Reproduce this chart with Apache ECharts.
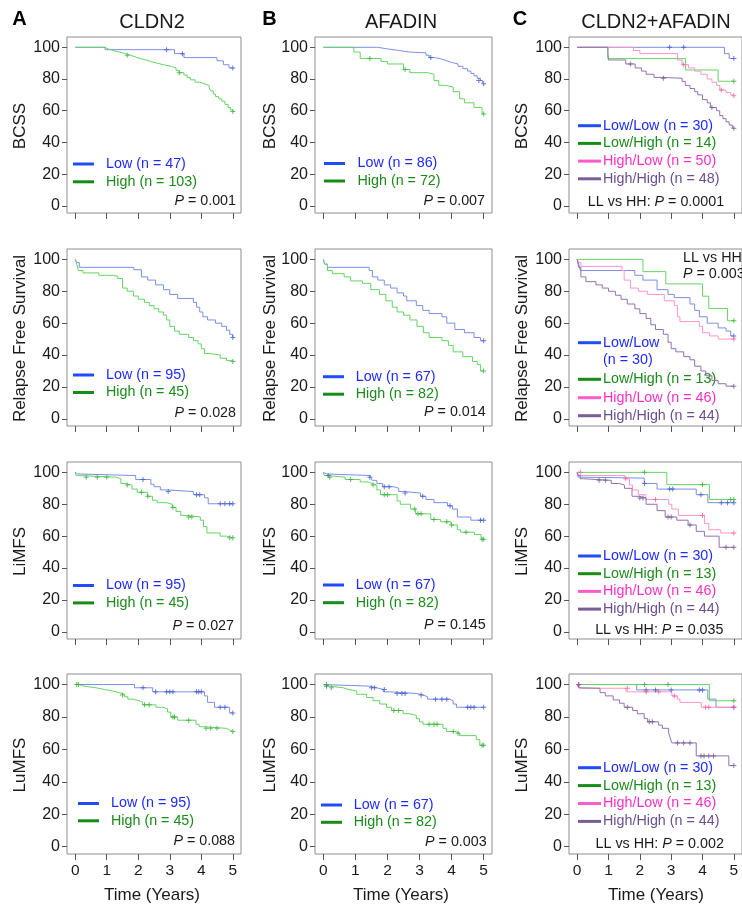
<!DOCTYPE html>
<html><head><meta charset="utf-8">
<script src="https://cdn.jsdelivr.net/npm/echarts@6/dist/echarts.min.js"></script>
<style>html,body{margin:0;padding:0;background:#fff}#c{width:742px;height:905px}</style>
</head><body><div id="c"></div>
<script>
// ---------- tick labels ----------
const timeTicks = [0, 1, 2, 3, 4, 5];
const survTicks = [0, 20, 40, 60, 80, 100];
const panelLetters = ['A', 'B', 'C'];
const columnTitles = ['CLDN2', 'AFADIN', 'CLDN2+AFADIN'];
const rowEndpoints = ['BCSS', 'Relapse Free Survival', 'LiMFS', 'LuMFS'];
const timeTitle = 'Time (Years)';

// ---------- CLDN2 ----------
const cldn2BcssLow = [[0,100],[0.95,98.5],[3.15,96],[3.45,93.5],[4.5,91.5],[4.7,89],[4.88,87],[5,87]];
const cldn2BcssLowCens = [[2.9,98.5],[3.4,96],[5,87]];
const cldn2BcssHigh = [[0,100],[0.95,99],[1.05,98],[1.2,97],[1.4,96],[1.6,95],[1.75,94],[1.9,93],[2.05,92],[2.25,91],[2.4,90],[2.6,89],[2.8,88],[3.05,87],[3.2,85.5],[3.3,84],[3.45,82.5],[3.55,81],[3.65,79.5],[3.8,78],[3.95,77],[4.1,76],[4.25,74.5],[4.3,72.5],[4.38,70.5],[4.45,69],[4.55,67.5],[4.65,66],[4.75,64],[4.85,62],[4.93,60.5],[5,59.5]];
const cldn2BcssHighCens = [[1.65,95],[3.3,84],[5,59.5]];

const cldn2RfsLow = [[0,100],[0.05,98],[0.13,95],[1.86,93.5],[2.1,89],[2.3,87],[2.55,84],[2.8,81],[3.0,78],[3.25,75.5],[3.75,73],[3.85,70],[3.95,67],[4.05,64],[4.2,62],[4.45,60],[4.65,58],[4.8,55.5],[4.9,53],[5,51]];
const cldn2RfsLowCens = [[5,51]];
const cldn2RfsHigh = [[0,100],[0.05,97],[0.1,93],[0.25,91.5],[0.75,90],[1.1,89.5],[1.35,88],[1.5,82],[1.65,80],[1.85,77],[2.0,75],[2.2,73],[2.35,71],[2.5,69],[2.65,67],[2.8,65],[2.9,62],[3.0,58],[3.15,55],[3.3,53],[3.6,51],[3.75,49],[3.9,47],[4.0,44],[4.1,41],[4.25,40],[4.6,38],[4.8,36.5],[5,36]];
const cldn2RfsHighCens = [[5,36]];

const cldn2LimfsLow = [[0,100],[0.03,99],[0.08,98],[1.92,95.5],[2.4,92.5],[2.5,91],[2.7,89],[2.9,88],[3.75,86],[4.1,84],[4.22,80.3],[5,80.3]];
const cldn2LimfsLowCens = [[2.15,95.5],[2.95,88],[3.85,86],[3.95,86],[4.6,80.3],[4.75,80.3],[4.9,80.3],[5,80.3]];
const cldn2LimfsHigh = [[0,100],[0.03,98],[0.1,97],[1.3,96],[1.45,93],[1.6,92],[1.8,89.5],[1.97,87.5],[2.3,85],[2.45,82.5],[2.6,81],[2.9,80],[3.08,78],[3.2,75.5],[3.35,73],[3.55,72],[3.97,70],[4.07,66],[4.18,62],[4.6,60],[4.8,59],[5,59]];
const cldn2LimfsHighCens = [[0.35,97],[0.7,97],[1.0,97],[1.65,92],[2.1,87.5],[2.3,85],[3.1,78],[3.6,72],[3.7,72],[4.9,59],[5,59]];

const cldn2LumfsLow = [[0,100],[1.88,98],[2.46,95.5],[4.1,93],[4.2,89],[4.42,86],[4.9,82.5],[5,82.5]];
const cldn2LumfsLowCens = [[2.15,98],[2.55,95.5],[2.9,95.5],[3.0,95.5],[3.1,95.5],[3.85,95.5],[3.92,95.5],[4.0,95.5],[4.6,86],[4.75,86],[5,82.5]];
const cldn2LumfsHigh = [[0,100],[0.12,99],[0.29,98],[0.66,97],[0.92,96],[1.19,95],[1.4,94],[1.56,92.5],[1.67,91],[1.83,90],[2.03,89],[2.14,87.5],[2.56,86],[2.78,85],[2.93,83],[3.03,80],[3.25,78],[3.83,75.5],[3.93,74],[4.05,73],[4.79,72],[4.9,71],[5,71]];
const cldn2LumfsHighCens = [[0.05,100],[0.1,100],[1.5,93.5],[2.2,87.5],[2.35,87.5],[3.1,80],[3.15,80],[3.6,78],[4.15,73],[4.3,73],[4.5,73],[5,71]];

// ---------- AFADIN ----------
const afadinBcssLow = [[0,100],[1.7,99],[2.0,98],[2.35,97],[2.7,96.5],[3.2,95],[3.3,93.5],[3.5,92.5],[3.7,91.5],[3.85,90.5],[4.0,89.5],[4.2,88],[4.35,86.5],[4.5,85],[4.6,83.5],[4.7,82],[4.8,80.5],[4.9,79],[4.97,77.5],[5,77]];
const afadinBcssLowCens = [[3.35,93.5],[4.85,79],[5,77]];
const afadinBcssHigh = [[0,100],[0.95,97],[1.15,93],[1.8,91],[2.0,89.5],[2.5,86],[2.7,84],[3.25,83],[3.45,79],[3.6,76],[3.8,75],[4.05,72],[4.25,67.5],[4.4,65],[4.7,62],[4.95,58.5],[5,58]];
const afadinBcssHighCens = [[1.45,93],[2.55,86],[5,58]];

const afadinRfsLow = [[0,100],[0.04,97],[0.13,95],[1.43,93],[1.53,89],[1.7,87],[1.9,84],[2.1,82],[2.3,79],[2.5,77],[2.6,74],[2.9,71],[3.1,68],[3.3,66],[3.7,64],[3.85,60],[4.1,56],[4.4,54],[4.7,51],[4.9,49],[5,49]];
const afadinRfsLowCens = [[5,49]];
const afadinRfsHigh = [[0,100],[0.04,97],[0.13,93],[0.28,91],[0.65,89],[0.85,86.5],[1.22,85],[1.48,81],[1.75,78],[1.95,74],[2.15,70],[2.3,67],[2.5,65],[2.7,62],[2.92,58],[3.12,54],[3.3,51],[3.7,49],[3.9,46],[4.05,42],[4.35,39],[4.65,36],[4.8,34],[4.9,30],[5,30]];
const afadinRfsHighCens = [[5,30]];

const afadinLimfsLow = [[0,100],[0.03,99],[0.1,98],[1.46,97],[1.52,95],[1.67,93],[1.85,91],[2.2,90],[2.35,88],[2.51,87],[3.03,85],[3.2,83],[3.45,81],[3.87,79],[4.03,77],[4.18,72],[4.6,70],[5,70]];
const afadinLimfsLowCens = [[0.15,98],[1.45,97],[1.9,91],[2.05,91],[2.55,87],[3.1,85],[3.95,79],[4.9,70],[5,70]];
const afadinLimfsHigh = [[0,100],[0.03,98],[0.1,97],[0.68,95.5],[1.15,94],[1.41,93],[1.52,92],[1.67,89],[1.78,86],[2.3,82],[2.4,80],[2.72,77],[2.88,74],[3.35,70.5],[3.66,69],[3.98,67],[4.18,64],[4.28,62.5],[4.71,61],[4.92,58],[5,58]];
const afadinLimfsHighCens = [[0.2,97],[0.85,95.5],[1.55,92],[1.9,86],[2.0,86],[2.85,77],[2.95,74],[3.05,74],[3.45,70.5],[3.85,69],[4.0,67],[4.45,62.5],[4.95,58],[5,58]];

const afadinLumfsLow = [[0,100],[0.05,99],[1.45,98],[1.66,97],[1.87,95.5],[2.07,94.5],[2.9,93.5],[3.11,92.5],[3.25,91],[3.94,90],[4.05,88],[4.15,86],[5,86]];
const afadinLumfsLowCens = [[0.1,99],[1.5,98],[1.6,98],[1.9,97],[2.3,94.5],[2.45,94.5],[2.55,94.5],[3.05,93.5],[3.5,91],[3.7,91],[3.85,91],[4.5,86],[4.6,86],[4.7,86],[5,86]];
const afadinLumfsHigh = [[0,100],[0.05,99],[0.2,98],[0.62,97],[0.77,96],[1.04,94],[1.35,92],[1.55,90],[1.76,88],[1.97,86],[2.13,84],[2.49,82],[2.7,81],[2.9,79],[3.0,77],[3.11,75.5],[3.73,73],[3.84,71],[4.15,70],[4.25,68.5],[4.77,66],[4.88,62.5],[5,62.5]];
const afadinLumfsHighCens = [[0.1,100],[0.25,98],[2.2,84],[2.35,84],[3.3,75.5],[3.45,75.5],[3.55,75.5],[4.05,71],[4.2,70],[4.95,62.5],[5,62.5]];

// ---------- CLDN2+AFADIN ----------
const comboBcssLL = [[0,100],[4.7,96],[4.85,93],[5,93]];
const comboBcssLLCens = [[2.95,100],[3.4,100],[5,93]];
const comboBcssLH = [[0,100],[0.98,92.9],[3.46,85.7],[4.5,78.6],[5,78.6]];
const comboBcssLHCens = [[5,78.6]];
const comboBcssHL = [[0,100],[1.8,98],[2.0,96],[3.2,92],[3.35,89],[3.55,87],[3.75,85],[3.95,83],[4.15,80],[4.3,78],[4.45,76],[4.55,73],[4.75,71.5],[4.9,70],[5,69.5]];
const comboBcssHLCens = [[3.4,89],[4.6,73],[5,69.5]];
const comboBcssHH = [[0,100],[0.98,96],[1.0,92],[1.55,89.5],[1.85,87],[2.05,85],[2.2,83],[2.45,81],[2.7,80.5],[3.35,78.5],[3.45,76],[3.6,74],[3.75,72],[3.85,70],[4.0,67],[4.15,65],[4.25,62],[4.45,60],[4.55,57],[4.65,55],[4.75,53],[4.85,51],[4.95,49],[5,49]];
const comboBcssHHCens = [[1.7,89.5],[2.75,80.5],[4.3,62],[5,49]];

const comboRfsLL = [[0,100],[0.05,97],[0.1,93],[1.84,90],[2.1,87],[2.55,81],[2.9,78],[3.1,76],[3.6,72],[3.75,68],[3.9,64],[4.15,60],[4.5,57],[4.75,55],[4.9,52],[5,52]];
const comboRfsLLCens = [[5,52]];
const comboRfsLH = [[0,100],[2.1,92.3],[2.83,84.6],[4.0,76.9],[4.2,69.2],[4.8,61.5],[5,61.5]];
const comboRfsLHCens = [[5,61.5]];
const comboRfsHL = [[0,100],[0.05,98],[0.12,95.6],[1.43,93],[1.5,87],[1.7,82],[1.95,80],[2.25,78],[2.78,74],[3.1,71],[3.2,64],[3.28,61],[3.9,58],[4.0,54],[4.22,52],[4.5,50],[5,50]];
const comboRfsHLCens = [[5,50]];
const comboRfsHH = [[0,100],[0.05,95],[0.12,89],[0.28,86],[0.6,84],[0.8,82],[1.0,80],[1.22,77.5],[1.4,75],[1.6,72],[1.84,69],[2.0,66],[2.2,63],[2.35,59],[2.5,56],[2.75,53],[2.9,48],[3.0,44],[3.15,42],[3.4,39],[3.6,37],[3.75,33],[3.95,30],[4.1,27],[4.3,24],[4.5,22],[4.75,20.5],[5,20.5]];
const comboRfsHHCens = [[5,20.5]];

const comboLimfsLL = [[0,100],[0.03,97],[0.1,96.4],[2.14,93],[2.55,89.5],[3.8,86],[4.17,81],[5,81]];
const comboLimfsLLCens = [[2.15,93],[2.95,89.5],[3.05,89.5],[3.95,86],[4.6,81],[4.8,81],[5,81]];
const comboLimfsLH = [[0,100],[2.86,92.3],[4.22,83],[5,83]];
const comboLimfsLHCens = [[2.15,100],[4.0,92.3],[4.9,83],[5,83]];
const comboLimfsHL = [[0,100],[0.05,98],[1.51,96],[1.67,92],[1.77,89],[1.95,86],[2.19,83],[2.92,80],[3.02,77],[3.23,73],[4.06,68],[4.2,64],[4.58,62],[5,62]];
const comboLimfsHLCens = [[0.1,100],[1.55,96],[2.5,83],[4.0,73],[5,62]];
const comboLimfsHH = [[0,100],[0.03,98],[0.1,96],[0.2,95],[1.09,93],[1.35,92],[1.51,90],[1.75,85],[1.98,84],[2.2,80],[2.55,76],[2.81,72],[3.18,70],[3.54,67],[3.8,63],[4.06,60],[4.53,53],[5,53]];
const comboLimfsHHCens = [[0.7,95],[0.9,95],[2.0,84],[2.1,84],[2.9,72],[3.0,72],[3.6,67],[4.75,53],[5,53]];

const comboLumfsLL = [[0,100],[1.9,96.7],[4.17,91],[4.43,86],[5,86]];
const comboLumfsLLCens = [[2.2,96.7],[2.5,96.7],[3.0,96.7],[3.9,96.7],[4.0,96.7],[5,86]];
const comboLumfsLH = [[0,100],[4.22,90],[5,90]];
const comboLumfsLHCens = [[2.15,100],[2.9,100],[5,90]];
const comboLumfsHL = [[0,100],[0.08,97.7],[1.56,95.5],[3.02,93],[3.2,91],[3.28,89],[3.96,86],[5,86]];
const comboLumfsHLCens = [[0.05,100],[1.6,97.7],[2.2,95.5],[2.6,95.5],[3.1,93],[4.1,86],[4.2,86],[5,86]];
const comboLumfsHH = [[0,100],[0.05,98],[0.13,97.7],[0.73,95],[0.9,93],[1.15,90.5],[1.35,88.5],[1.5,86],[1.77,84],[1.92,82],[2.14,79],[2.25,77],[2.6,75],[2.72,73],[2.92,70],[2.97,67],[3.02,64],[3.8,56],[4.84,50],[5,50]];
const comboLumfsHHCens = [[0.05,100],[1.6,86],[2.3,77],[2.4,77],[3.2,64],[3.4,64],[3.6,64],[3.95,56],[4.05,56],[4.2,56],[4.35,56],[5,50]];

// ---------- legend labels and p-values ----------
const cldn2Labels = [['Low (n = 47)','High (n = 103)'],['Low (n = 95)','High (n = 45)'],['Low (n = 95)','High (n = 45)'],['Low (n = 95)','High (n = 45)']];
const afadinLabels = [['Low (n = 86)','High (n = 72)'],['Low (n = 67)','High (n = 82)'],['Low (n = 67)','High (n = 82)'],['Low (n = 67)','High (n = 82)']];
const comboLabels = [['Low/Low (n = 30)','Low/High (n = 14)','High/Low (n = 50)','High/High (n = 48)'],
                     ['Low/Low (n = 30)','Low/High (n = 13)','High/Low (n = 46)','High/High (n = 44)'],
                     ['Low/Low (n = 30)','Low/High (n = 13)','High/Low (n = 46)','High/High (n = 44)'],
                     ['Low/Low (n = 30)','Low/High (n = 13)','High/Low (n = 46)','High/High (n = 44)']];
const cldn2P = ['0.001','0.028','0.027','0.088'];
const afadinP = ['0.007','0.014','0.145','0.003'];
const comboP = ['0.0001','0.003','0.035','0.002'];

// ---------- styling / layout ----------
const FONT = "'Liberation Sans', Arial, Helvetica, sans-serif";
const lineCol = ['#7a8fe4', '#66d466', '#ff95c9', '#9272ae'];
const markCol = ['#3f58cf', '#36b036', '#f4609f', '#73558f'];
const swatchCol = ['#1f4cff', '#168c16', '#ff5ccb', '#7a5c98'];
const textCol = ['#1e2bff', '#1b8b1b', '#ff2fc4', '#6b5090'];
const colLeft = [67, 315, 569];
const colWidth = [174, 177, 178];
const rowTop = [37, 249, 462, 674];
const rowHeight = [176, 177, 177, 180];

const curveSets = [
  [[cldn2BcssLow, cldn2BcssLowCens],[cldn2BcssHigh, cldn2BcssHighCens]],
  [[afadinBcssLow, afadinBcssLowCens],[afadinBcssHigh, afadinBcssHighCens]],
  [[comboBcssLL, comboBcssLLCens],[comboBcssLH, comboBcssLHCens],[comboBcssHL, comboBcssHLCens],[comboBcssHH, comboBcssHHCens]],
  [[cldn2RfsLow, cldn2RfsLowCens],[cldn2RfsHigh, cldn2RfsHighCens]],
  [[afadinRfsLow, afadinRfsLowCens],[afadinRfsHigh, afadinRfsHighCens]],
  [[comboRfsLL, comboRfsLLCens],[comboRfsLH, comboRfsLHCens],[comboRfsHL, comboRfsHLCens],[comboRfsHH, comboRfsHHCens]],
  [[cldn2LimfsLow, cldn2LimfsLowCens],[cldn2LimfsHigh, cldn2LimfsHighCens]],
  [[afadinLimfsLow, afadinLimfsLowCens],[afadinLimfsHigh, afadinLimfsHighCens]],
  [[comboLimfsLL, comboLimfsLLCens],[comboLimfsLH, comboLimfsLHCens],[comboLimfsHL, comboLimfsHLCens],[comboLimfsHH, comboLimfsHHCens]],
  [[cldn2LumfsLow, cldn2LumfsLowCens],[cldn2LumfsHigh, cldn2LumfsHighCens]],
  [[afadinLumfsLow, afadinLumfsLowCens],[afadinLumfsHigh, afadinLumfsHighCens]],
  [[comboLumfsLL, comboLumfsLLCens],[comboLumfsLH, comboLumfsLHCens],[comboLumfsHL, comboLumfsHLCens],[comboLumfsHH, comboLumfsHHCens]]
];

// legend placement per panel: [lineX, firstRowY, rowStep, textX]
const legendPos = [
  [73,164,17.8,106],[324,163.5,17.5,357.5],[578,125.7,17.7,603],
  [73,375,17.5,106],[323,376.7,17.5,355.7],null,
  [73,585.5,17.4,106],[323,585,17.7,355.7],[578,556,17.7,603],
  [78,803.5,17.3,111],[321,805,17.3,353.7],[578,767.7,17.9,603]
];
const pPos = [[236,201],[485,201],[656,201.7],[236,413],[485.7,411.7],null,[234,625.7],[485.7,625],[659.3,630],[235,841],[486.7,841.7],[659.7,844]];
const yNameX = [20, 270, 522];
const titleX = [152, 401, 656];
const letterX = [19.5, 269.5, 520];
const plusPath = 'path://M4,0H6V4H10V6H6V10H4V6H0V4H4Z';

const grids = [], xAxes = [], yAxes = [], series = [], graphics = [];
const txt = (x, y, text, opts) => Object.assign({type:'text', x, y, silent:true,
  style: Object.assign({text, font: '14px ' + FONT, fill:'#1a1a1a', align:'left', verticalAlign:'middle'}, opts || {})});

for (let i = 0; i < 12; i++) {
  const row = Math.floor(i / 3), col = i % 3;
  grids.push({left: colLeft[col], top: rowTop[row], width: colWidth[col], height: rowHeight[row],
    show: true, borderColor: '#8e8e8e', borderWidth: 1, backgroundColor: 'transparent', containLabel: false});
  xAxes.push({gridIndex: i, type: 'value', min: -0.26, max: 5.26,
    axisLine: {show: false, onZero: false}, splitLine: {show: false},
    axisTick: {show: true, length: 6, customValues: timeTicks, lineStyle: {color: '#555'}},
    axisLabel: {show: row === 3, customValues: timeTicks, margin: 9, fontSize: 15.5, color: '#1a1a1a', fontFamily: FONT}});
  yAxes.push({gridIndex: i, type: 'value', min: -4.5, max: 106.5,
    axisLine: {show: false, onZero: false}, splitLine: {show: false},
    axisTick: {show: true, length: 5, customValues: survTicks, lineStyle: {color: '#555'}},
    axisLabel: {show: true, customValues: survTicks, margin: 7, fontSize: 16, color: '#1a1a1a', fontFamily: FONT}});
  curveSets[i].forEach((c, k) => {
    series.push({type: 'line', xAxisIndex: i, yAxisIndex: i, data: c[0], step: 'end', symbol: 'none',
      lineStyle: {width: 1, color: lineCol[k]}, silent: true, animation: false, z: 2});
    series.push({type: 'scatter', xAxisIndex: i, yAxisIndex: i, data: c[1], symbol: plusPath, symbolSize: 5,
      itemStyle: {color: markCol[k]}, silent: true, animation: false, z: 3});
  });
  // axis name
  const cy = rowTop[row] + rowHeight[row] / 2 + 1;
  graphics.push(txt(yNameX[col], cy, rowEndpoints[row], {font: '17px ' + FONT, align: 'center'}));
  graphics[graphics.length - 1].rotation = Math.PI / 2;
  // legend
  const labels = col === 0 ? cldn2Labels[row] : col === 1 ? afadinLabels[row] : comboLabels[row];
  if (legendPos[i]) {
    const [lx, ly, dy, tx] = legendPos[i];
    const len = col === 2 ? 23 : 21;
    labels.forEach((lab, k) => {
      const y = ly + k * dy;
      graphics.push({type: 'line', silent: true, shape: {x1: lx, y1: y, x2: lx + len, y2: y},
        style: {stroke: swatchCol[k], lineWidth: 3}});
      graphics.push(txt(tx, y, lab, {fill: textCol[k], font: '14.3px ' + FONT}));
    });
  } else {
    // special C relapse-free legend (wrapped first entry)
    const ys = [342.7, 379.3, 397.7, 415.7];
    labels.forEach((lab, k) => {
      graphics.push({type: 'line', silent: true, shape: {x1: 578, y1: ys[k], x2: 601, y2: ys[k]},
        style: {stroke: swatchCol[k], lineWidth: 3}});
      if (k === 0) {
        graphics.push(txt(603, ys[0], 'Low/Low', {fill: textCol[0], font: '14.3px ' + FONT}));
        graphics.push(txt(603, 360, '(n = 30)', {fill: textCol[0], font: '14.3px ' + FONT}));
      } else {
        graphics.push(txt(603, ys[k], lab, {fill: textCol[k], font: '14.3px ' + FONT}));
      }
    });
  }
  // p-value
  const rich = {i: {fontStyle: 'italic', fontSize: 14.3, fontFamily: FONT, fill: '#1a1a1a'}, n: {fontSize: 14.3, fontFamily: FONT, fill: '#1a1a1a'}};
  if (col < 2) {
    const pv = col === 0 ? cldn2P[row] : afadinP[row];
    graphics.push(txt(pPos[i][0], pPos[i][1], '{i|P}{n| = ' + pv + '}', {align: 'right', rich}));
  } else if (pPos[i]) {
    graphics.push(txt(pPos[i][0], pPos[i][1], '{n|LL vs HH: }{i|P}{n| = ' + comboP[row] + '}', {align: 'center', rich}));
  } else {
    graphics.push(txt(683, 257.7, 'LL vs HH', {font: '14.3px ' + FONT}));
    graphics.push(txt(683, 274.3, '{i|P}{n| = ' + comboP[row] + '}', {rich}));
  }
}
// column titles, panel letters, x-axis titles
for (let c = 0; c < 3; c++) {
  graphics.push(txt(letterX[c], 19, panelLetters[c], {font: 'bold 20px ' + FONT, align: 'center', fill: '#000'}));
  graphics.push(txt(titleX[c], 22, columnTitles[c], {font: '20px ' + FONT, align: 'center'}));
  graphics.push(txt(titleX[c], 895, timeTitle, {font: '17px ' + FONT, align: 'center'}));
}

const chart = echarts.init(document.getElementById('c'), null, {renderer: 'canvas'});
chart.setOption({animation: false, grid: grids, xAxis: xAxes, yAxis: yAxes, series, graphic: graphics});
</script></body></html>
